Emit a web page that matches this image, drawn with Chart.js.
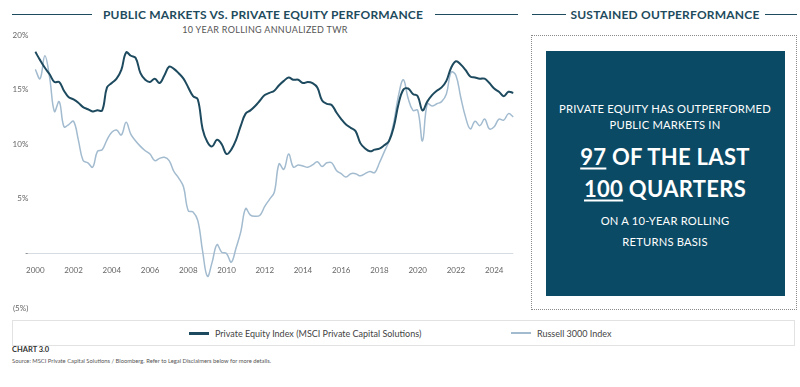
<!DOCTYPE html>
<html>
<head>
<meta charset="utf-8">
<script src="https://cdn.jsdelivr.net/npm/chart.js@4.4.1/dist/chart.umd.min.js"></script>
<style>
  body { margin: 0; width: 800px; height: 387px; background: #fff; position: relative; overflow: hidden;
         font-family: Lato, "DejaVu Sans", sans-serif; }
  .rule { position: absolute; height: 1.5px; background: #1e4b5d; }
  .head { position: absolute; color: #1e4b5d; font-weight: 700; font-size: 12px; white-space: nowrap;
          transform: translate(-50%, -50%); letter-spacing: 0.2px; }
  .sub { position: absolute; color: #555; font-size: 9px; white-space: nowrap; transform: translate(-50%, -50%); letter-spacing: 0.3px; }
  #chartBox { position: absolute; left: 0; top: 0; width: 525px; height: 318px; }
  #dotted { position: absolute; left: 531px; top: 35px; width: 266px; height: 275px; box-sizing: border-box;
            border: 1px dotted #8a8a8a; }
  #panel { position: absolute; left: 546px; top: 51px; width: 239px; height: 245px; background: #0b4a64; }
  .pt { position: absolute; left: 665px; color: #fff; white-space: nowrap; transform: translate(-50%, -50%); }
  .small { font-size: 11.2px; letter-spacing: 0.2px; }
  .big { font-size: 22px; font-weight: 700; letter-spacing: 0.3px; }
  .big u { text-decoration-thickness: 2px; text-underline-offset: 3px; }
  #legend { position: absolute; left: 12px; top: 320px; width: 783px; height: 26px; box-sizing: border-box;
            border: 1px solid #e2e2e2; }
  .li { position: absolute; top: 0; height: 24px; display: flex; align-items: center; font-size: 9px; color: #444; white-space: nowrap; }
  .li span.sw { display: inline-block; width: 20px; margin-right: 6px; }
  #note { position: absolute; left: 12px; top: 345px; font-size: 7.5px; font-weight: 700; color: #333; }
  #src { position: absolute; left: 12px; top: 357px; font-size: 5.8px; color: #555; white-space: nowrap; }
</style>
</head>
<body>
<div class="rule" style="left:12px; top:13.5px; width:80px"></div>
<div class="head" style="left:263px; top:14px">PUBLIC MARKETS VS. PRIVATE EQUITY PERFORMANCE</div>
<div class="rule" style="left:435px; top:13.5px; width:83px"></div>
<div class="sub" style="left:265px; top:29px">10 YEAR ROLLING ANNUALIZED TWR</div>

<div class="rule" style="left:532px; top:13.5px; width:34px"></div>
<div class="head" style="left:665px; top:14px">SUSTAINED OUTPERFORMANCE</div>
<div class="rule" style="left:765px; top:13.5px; width:32px"></div>

<div id="chartBox"><canvas id="perfChart"></canvas></div>

<div id="dotted"></div>
<div id="panel"></div>
<div class="pt small" style="top:108px">PRIVATE EQUITY HAS OUTPERFORMED</div>
<div class="pt small" style="top:124px">PUBLIC MARKETS IN</div>
<div class="pt big" style="top:156px"><u>97</u> OF THE LAST</div>
<div class="pt big" style="top:188px"><u>100</u> QUARTERS</div>
<div class="pt small" style="top:220px">ON A 10-YEAR ROLLING</div>
<div class="pt small" style="top:241px">RETURNS BASIS</div>

<div id="legend"></div>
<div id="note">CHART 3.0</div>
<div id="src">Source: MSCI Private Capital Solutions / Bloomberg. Refer to Legal Disclaimers below for more details.</div>

<script>
// quarterly points, 2000 Q1 .. 2025 Q1
const years = [2000, 2001, 2002, 2003, 2004, 2005, 2006, 2007, 2008, 2009, 2010, 2011, 2012,
  2013, 2014, 2015, 2016, 2017, 2018, 2019, 2020, 2021, 2022, 2023, 2024, 2025];
const yearTicks = ["2000", "2002", "2004", "2006", "2008", "2010", "2012", "2014", "2016", "2018", "2020", "2022", "2024"];
const yTicks = [-5, 0, 5, 10, 15, 20];

const privateEquity = [
  18.46, 17.7, 17.0, 16.4, 15.7, 15.7, 14.9, 14.3, 14.1, 13.8,
  13.4, 13.2, 13.0, 13.1, 13.1, 15.2, 15.6, 16.0, 16.8, 18.4,
  18.1, 17.9, 16.5, 15.9, 15.7, 16.0, 15.6, 16.3, 17.1, 16.9,
  16.5, 16.0, 15.2, 14.4, 14.1, 11.4, 10.2, 9.8, 10.4, 10.0,
  9.1, 9.5, 10.4, 11.7, 12.8, 13.1, 13.5, 14.0, 14.5, 14.7,
  14.9, 15.4, 15.8, 16.1, 15.9, 15.9, 15.6, 15.7, 15.6, 15.2,
  14.0, 13.7, 13.6, 12.9, 12.3, 11.8, 11.5, 11.2, 10.1, 9.6,
  9.35, 9.5, 9.6, 9.9, 10.3, 11.6, 13.7, 15.0, 15.1, 14.6,
  14.4, 13.1, 13.9, 14.5, 14.9, 15.2, 15.8, 17.0, 17.6, 17.3,
  16.8, 16.2, 16.1, 16.0, 16.0, 15.6, 15.1, 14.8, 14.4, 14.8, 14.7
];
const russell3000 = [
  16.85, 16.0, 18.1, 16.1, 13.0, 13.9, 11.6, 11.8, 12.1, 10.4,
  8.5, 8.3, 7.9, 9.35, 9.5, 10.4, 11.1, 11.3, 10.85, 12.0,
  10.9, 10.3, 9.8, 9.4, 9.1, 8.5, 8.7, 8.8, 8.5, 7.5,
  6.9, 6.1, 3.9, 3.8, 3.0, 0.2, -2.1, -0.8, 0.8, 0.1,
  0.0, -0.8, 0.5, 2.0, 4.1, 3.5, 3.4, 3.5, 4.3, 4.95,
  5.6, 8.2, 7.7, 9.1, 7.9, 8.1, 8.0, 7.9, 8.1, 8.4,
  7.96, 8.3, 8.3, 7.6, 7.3, 7.0, 7.3, 7.3, 7.1, 7.3,
  7.5, 7.4, 8.3, 9.3, 10.3, 12.0, 14.5, 15.9, 14.2, 13.1,
  13.1, 10.3, 13.7, 13.5, 13.7, 13.9, 14.6, 16.6, 16.3, 14.3,
  12.5, 11.4, 12.1, 11.7, 12.3, 11.4, 11.6, 12.3, 12.2, 12.8, 12.5
];

const quarterLabels = [];
years.forEach((y) => {
  for (let q = 1; q <= 4; q++) quarterLabels.push(y + " Q" + q);
});
quarterLabels.length = privateEquity.length;

const tickFont = { family: "Lato, 'DejaVu Sans', sans-serif", size: 8 };

const chart = new Chart(document.getElementById("perfChart"), {
  type: "line",
  data: {
    labels: quarterLabels,
    datasets: [
      {
        label: "Private Equity Index (MSCI Private Capital Solutions)",
        data: privateEquity,
        borderColor: "#1d4a5e",
        borderWidth: 2,
        legendWidth: 3,
      },
      {
        label: "Russell 3000 Index",
        data: russell3000,
        borderColor: "#a2bbcf",
        borderWidth: 1.5,
        legendWidth: 2,
      },
    ],
  },
  options: {
    responsive: true,
    maintainAspectRatio: false,
    animation: false,
    layout: { padding: { top: 35, left: 10, right: 11.7, bottom: 10 } },
    elements: { point: { radius: 0 }, line: { tension: 0.4 } },
    plugins: { legend: { display: false }, tooltip: { enabled: false } },
    scales: {
      x: {
        type: "category",
        position: { y: 0 },
        grid: { display: false },
        border: { display: false },
        ticks: {
          autoSkip: false,
          maxRotation: 0,
          padding: 4,
          color: "#666",
          font: tickFont,
          callback: (v, i) => (i % 8 === 0 ? yearTicks[i / 8] : ""),
        },
      },
      y: {
        min: yTicks[0],
        max: yTicks[yTicks.length - 1],
        afterBuildTicks: (s) => { s.ticks = yTicks.map((v) => ({ value: v })); },
        afterFit: (s) => { s.width = 25.3; },
        border: { display: false },
        grid: {
          color: (ctx) => (ctx.tick && ctx.tick.value === 0 ? "#d6dce1" : "transparent"),
          tickLength: 10,
        },
        ticks: {
          padding: -3,
          color: "#666",
          font: tickFont,
          callback: (v) => (v === 0 ? "-" : v < 0 ? "(" + -v + "%)" : v + "%"),
        },
      },
    },
  },
});

// html legend built from the datasets
const legendLefts = [176, 498];
const legend = document.getElementById("legend");
chart.data.datasets.forEach((ds, i) => {
  const item = document.createElement("div");
  item.className = "li";
  item.style.left = legendLefts[i] + "px";
  const sw = document.createElement("span");
  sw.className = "sw";
  sw.style.height = ds.legendWidth + "px";
  sw.style.background = ds.borderColor;
  item.appendChild(sw);
  item.appendChild(document.createTextNode(ds.label));
  legend.appendChild(item);
});
</script>
</body>
</html>
